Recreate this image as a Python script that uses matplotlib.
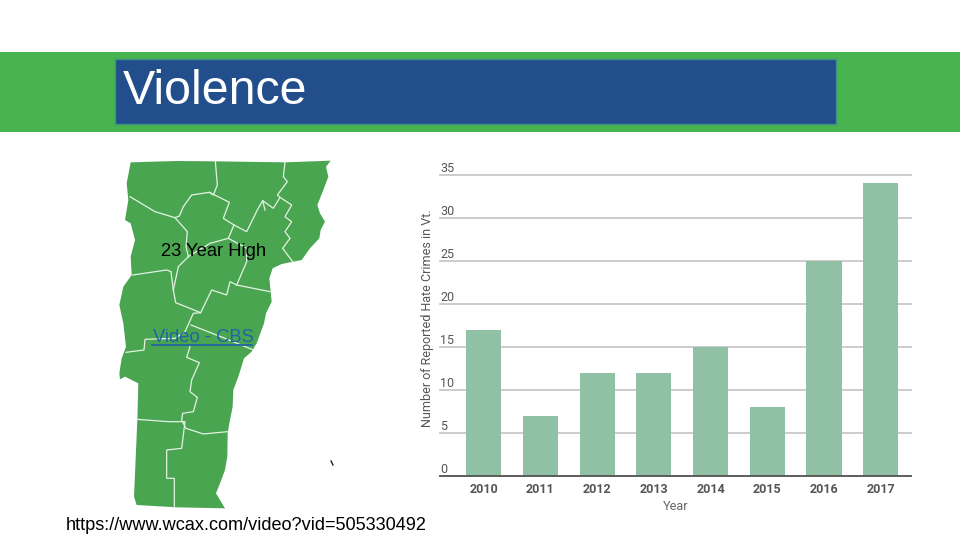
import matplotlib
matplotlib.use("Agg")
import matplotlib.pyplot as plt
from matplotlib.patches import Polygon, Rectangle

# chart data
years = ['2010', '2011', '2012', '2013', '2014', '2015', '2016', '2017']
crimes = [17, 7, 12, 12, 15, 8, 25, 34]
yticks = [0, 5, 10, 15, 20, 25, 30, 35]

outline = [(62,37),(200,33),(316,34),(525,37),(662,32),(648,50),(655,80),(640,120),(622,165),
           (630,190),(645,215),(632,240),(628,265),(600,295),(575,330),(515,342),(488,355),
           (478,385),(482,425),(485,455),(468,490),(462,520),(440,580),(425,605),(402,625),
           (385,680),(370,720),(368,770),(358,820),(353,850),(352,920),(345,960),(330,1000),
           (318,1030),(345,1075),(200,1072),(80,1065),(72,1040),(82,810),(85,700),(45,680),
           (30,688),(28,670),(35,625),(48,590),(40,520),(28,465),(40,410),(65,375),(62,320),
           (75,270),(62,220),(45,210),(55,150),(50,100)]
borders = [
    [(316,34),(322,105),(310,135),(298,127),(245,135),(220,170),(208,198),(195,203),(135,185),(60,140)],
    [(525,37),(520,80),(532,95),(502,135),(510,142),(490,175),(458,152),(443,178),(410,245),
     (372,225),(340,205),(358,157),(298,127)],
    [(510,142),(545,165),(525,200),(545,215),(525,245),(540,265),(518,295),(548,335)],
    [(458,152),(465,180)],
    [(195,203),(232,245),(228,290),(235,320),(205,350),(190,420)],
    [(190,420),(197,458),(272,488),(305,420),(350,435),(360,395),(380,405),(480,425)],
    [(372,225),(355,265),(410,295),(410,335),(380,405)],
    [(355,265),(300,280),(235,320)],
    [(68,375),(170,360),(183,365),(190,420)],
    [(272,488),(250,490),(225,545),(195,565),(105,568),(102,600),(48,607)],
    [(243,525),(345,565),(430,600)],
    [(240,590),(230,622),(268,638),(245,690),(240,725),(262,742),(250,785),(218,790),(215,810),
     (228,835),(280,852),(352,845)],
    [(82,808),(175,815),(225,815),(215,895),(170,900),(170,985),(193,985),(193,1072)],
]


def to_px(pts):
    return [(110 + x / 3, 150 + y / 3) for x, y in pts]


fig = plt.figure(figsize=(9.6, 5.4), dpi=100, facecolor='white')

# slide layer, in pixels
bg = fig.add_axes([0, 0, 1, 1])
bg.set_xlim(0, 960)
bg.set_ylim(540, 0)
bg.axis('off')

bg.add_patch(Rectangle((0, 52), 960, 80, facecolor='#46b34f', edgecolor='none'))
bg.add_patch(Rectangle((115, 59), 721, 65, facecolor='#234e8c', edgecolor='#3f8f86', linewidth=1))
bg.text(123, 92, 'Violence', color='white', fontsize=34.8, family='Liberation Sans', va='center', ha='left')

bg.add_patch(Polygon(to_px(outline), closed=True, facecolor='#4aa551', edgecolor='none'))
for line in borders:
    pts = to_px(line)
    bg.plot([p[0] for p in pts], [p[1] for p in pts], color='#e4f2e4', lw=0.9, solid_joinstyle='miter')
bg.plot([331, 333], [461, 465], color='#222222', lw=1)

bg.text(161, 251, '23 Year High', color='black', fontsize=13.2, family='Liberation Sans', va='center', ha='left')
bg.text(153, 338, 'Video - CBS', color='#1f64a6', fontsize=13.2, family='Liberation Sans', va='center', ha='left')
bg.plot([152, 252], [345, 345], color='#1f64a6', lw=1.3)
bg.text(66, 525.5, 'https://www.wcax.com/video?vid=505330492', color='black', fontsize=13.05,
        family='Liberation Sans', va='center', ha='left')

# bar chart
ax = fig.add_axes([440 / 960, 1 - 476.3 / 540, 470.7 / 960, 301.6 / 540])
ax.patch.set_alpha(0)
ax.bar(range(len(years)), crimes, width=0.62, color='#90c1a5', zorder=3)
ax.set_xlim(-0.77, 7.53)
ax.set_ylim(0, 35)
ax.set_yticks(yticks)
ax.set_xticks(range(len(years)), years)
ax.grid(axis='y', color='#c4c4c4', lw=1.2, zorder=1, clip_on=False)
ax.set_axisbelow(True)
for s in ['top', 'left', 'right']:
    ax.spines[s].set_visible(False)
ax.spines['bottom'].set_color('#555555')
ax.spines['bottom'].set_linewidth(1.3)
ax.spines['bottom'].set_zorder(4)
ax.tick_params(length=0)
ax.tick_params(axis='x', pad=5, labelsize=9, labelcolor='#555555')
ax.tick_params(axis='y', pad=0, labelsize=9, labelcolor='#555555')
for lab in ax.get_xticklabels():
    lab.set_family('Roboto')
    lab.set_fontweight('bold')
for lab in ax.get_yticklabels():
    lab.set_family('Roboto')
    lab.set_ha('left')
    lab.set_va('bottom')

bg.text(428, 318, 'Number of Reported Hate Crimes in Vt.', rotation=90, color='#555555',
        fontsize=9.0, family='Roboto', va='center', ha='center')
bg.text(675.5, 507, 'Year', color='#666666', fontsize=9.2, family='Roboto', va='center', ha='center')

fig.savefig('out.png', dpi=100)
